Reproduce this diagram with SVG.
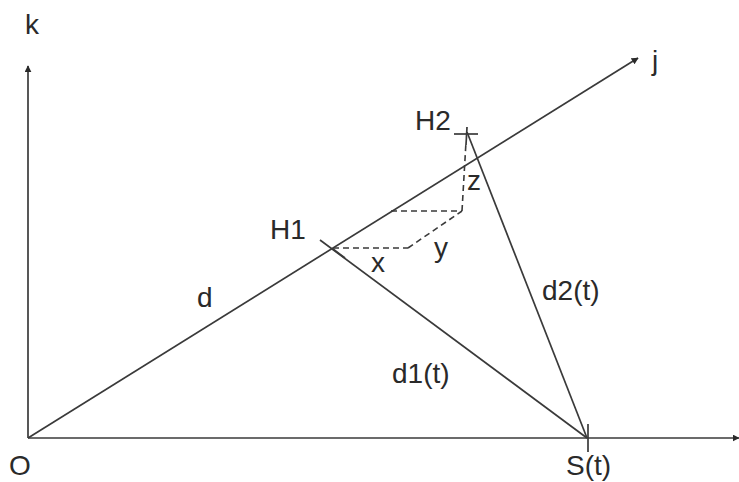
<svg xmlns="http://www.w3.org/2000/svg" width="739" height="482" viewBox="0 0 739 482">
<defs>
<style>
.ln{stroke:#3a3a3a;stroke-width:1.7;fill:none}
.ds{stroke:#3a3a3a;stroke-width:1.6;fill:none;stroke-dasharray:6 4}
.t{font-family:"Liberation Sans",Arial,sans-serif;font-size:28px;fill:#2a2a2a}
</style>
<marker id="ah" viewBox="0 0 10 10" refX="9" refY="5" markerWidth="7" markerHeight="7" orient="auto" markerUnits="userSpaceOnUse">
<path d="M0,0 L10,5 L0,10 z" fill="#2a2a2a"/>
</marker>
</defs>
<rect width="739" height="482" fill="#ffffff"/>
<g id="connectors">
<line class="ln" x1="28" y1="438" x2="28" y2="66" marker-end="url(#ah)"/>
<line class="ln" x1="28" y1="438" x2="739" y2="438" marker-end="url(#ah)"/>
<line class="ln" x1="28" y1="438" x2="638" y2="58" marker-end="url(#ah)"/>
<line class="ln" x1="320" y1="240" x2="587" y2="438"/>
<line class="ln" x1="467" y1="132" x2="587" y2="438"/>
<line class="ds" x1="333" y1="248" x2="408" y2="248"/>
<line class="ds" x1="408" y1="248" x2="462" y2="211"/>
<line class="ds" x1="391" y1="211" x2="462" y2="211"/>
<line class="ds" x1="462" y1="211" x2="466" y2="142"/>
</g>
<g id="O"><text class="t" x="9" y="475">O</text></g>
<g id="k"><text class="t" x="25" y="34">k</text></g>
<g id="j"><text class="t" x="652" y="70">j</text></g>
<g id="H1">
<line class="ln" x1="333" y1="249" x2="345" y2="258" stroke-width="3"/>
<text class="t" x="270" y="239">H1</text>
</g>
<g id="H2">
<line class="ln" x1="454" y1="134" x2="478" y2="134"/>
<line class="ln" x1="467" y1="127" x2="466" y2="145"/>
<text class="t" x="415" y="130">H2</text>
</g>
<g id="S">
<line class="ln" x1="588" y1="424" x2="588" y2="452"/>
<text class="t" x="566" y="475">S(t)</text>
</g>
<g id="labels">
<text class="t" x="197" y="307">d</text>
<text class="t" x="392" y="383">d1(t)</text>
<text class="t" x="542" y="300">d2(t)</text>
<text class="t" x="371" y="272">x</text>
<text class="t" x="434" y="257">y</text>
<text class="t" x="467" y="190">z</text>
</g>
</svg>
